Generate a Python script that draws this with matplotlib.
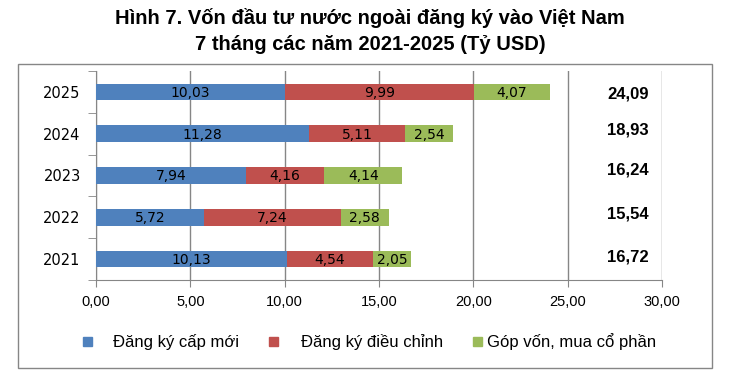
import matplotlib.pyplot as plt
from matplotlib.patches import Rectangle

years = ['2021', '2022', '2023', '2024', '2025']
new_reg = [10.13, 5.72, 7.94, 11.28, 10.03]
adjusted = [4.54, 7.24, 4.16, 5.11, 9.99]
capital = [2.05, 2.58, 4.14, 2.54, 4.07]
totals = [16.72, 15.54, 16.24, 18.93, 24.09]
series_names = ['Đăng ký cấp mới', 'Đăng ký điều chỉnh', 'Góp vốn, mua cổ phần']
colors = ['#4F81BD', '#C0504D', '#9BBB59']

W, H = 740, 378
fig = plt.figure(figsize=(W / 100, H / 100), dpi=100)
ax = fig.add_axes([96 / W, 1 - 280 / H, (662 - 96) / W, (280 - 71) / H])

def fmt(v):
    return f'{v:.2f}'.replace('.', ',')

y = range(len(years))
left = [0] * len(years)
for vals, col in zip([new_reg, adjusted, capital], colors):
    bars = ax.barh(y, vals, left=left, height=0.4, color=col, zorder=3)
    for b, v in zip(bars, vals):
        ax.text(b.get_x() + b.get_width() / 2, b.get_y() + b.get_height() / 2 - 0.02, fmt(v),
                ha='center', va='center', fontsize=10, family='DejaVu Sans', zorder=4)
    left = [l + v for l, v in zip(left, vals)]

# tổng (nhãn hơi lệch như bản gốc)
total_dy = [0.05, 0.07, 0.14, 0.08, -0.05]
for i, t in enumerate(totals):
    ax.text(28.2, i + total_dy[i], fmt(t), ha='center', va='center', fontsize=12,
            fontweight='bold', family='Liberation Sans')

ax.set_xlim(0, 30)
ax.set_ylim(-0.5, 4.5)
ax.set_xticks(range(0, 31, 5))
ax.set_xticklabels([fmt(x) for x in range(0, 31, 5)], family='Liberation Sans', fontsize=10.5)
ax.set_yticks(list(y))
ax.set_yticklabels(years, family='DejaVu Sans', fontsize=10.5)
ax.set_yticks([i - 0.5 for i in range(len(years) + 1)], minor=True)
ax.tick_params(axis='y', which='major', length=0, pad=11)
ax.tick_params(axis='y', which='minor', length=6, color='#868686')
ax.tick_params(axis='x', length=5, color='#868686', pad=6)
ax.grid(axis='x', color='#868686', linewidth=1, zorder=0)
for s in ['top', 'right']:
    ax.spines[s].set_visible(False)
for s in ['left', 'bottom']:
    ax.spines[s].set_color('#868686')

fig.text(370 / W, 1 - 18 / H, 'Hình 7. Vốn đầu tư nước ngoài đăng ký vào Việt Nam',
         ha='center', va='center', fontsize=14.5, fontweight='bold', family='Liberation Sans')
fig.text(370 / W, 1 - 45 / H, '7 tháng các năm 2021-2025 (Tỷ USD)',
         ha='center', va='center', fontsize=14.5, fontweight='bold', family='Liberation Sans')

# khung biểu đồ
fig.patches.append(Rectangle((18 / W, 1 - 368 / H), (712 - 18) / W, (368 - 64) / H,
                             transform=fig.transFigure, fill=False, edgecolor='#868686', linewidth=1))

# chú giải
for sq_x, tx_x, name, col in zip([83, 269, 473], [113, 301, 487], series_names, colors):
    fig.patches.append(Rectangle((sq_x / W, 1 - 346 / H), 9 / W, 9 / H,
                                 transform=fig.transFigure, color=col))
    fig.text(tx_x / W, 1 - 342 / H, name, ha='left', va='center', fontsize=12,
             family='Liberation Sans')

fig.savefig('out.png', dpi=100)
